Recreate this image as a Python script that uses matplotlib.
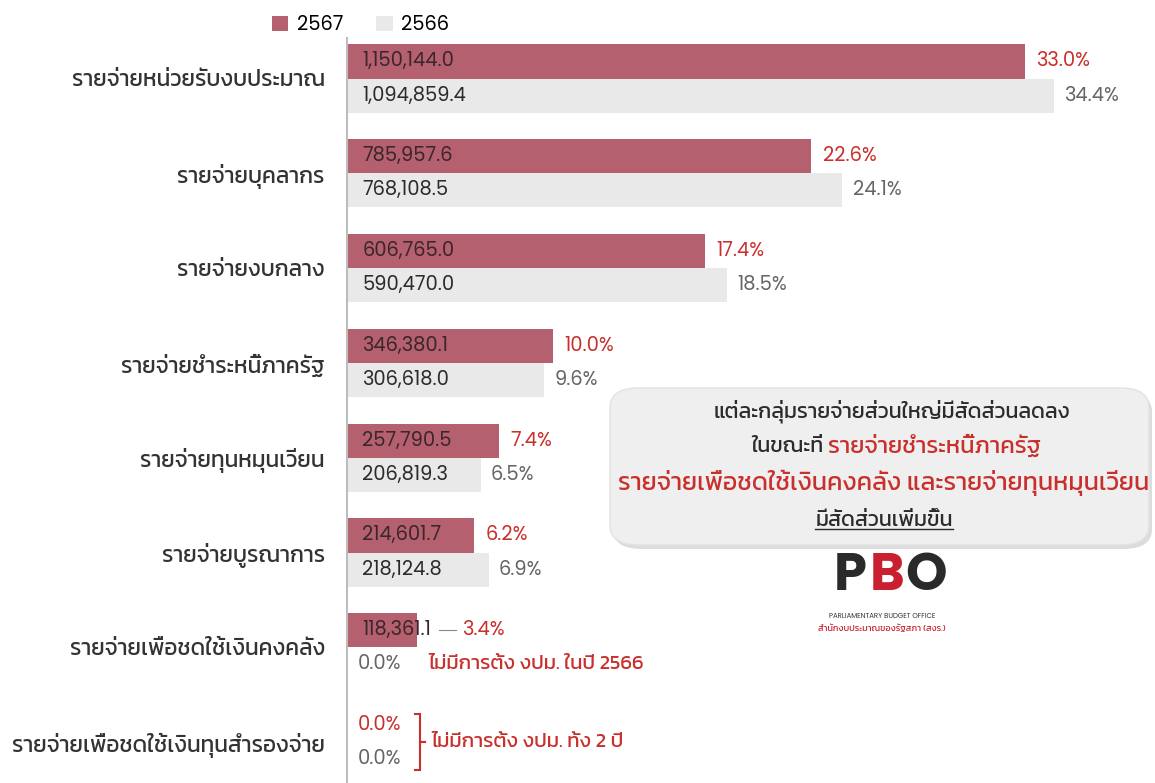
import matplotlib
matplotlib.use("Agg")
import matplotlib.pyplot as plt
from matplotlib import font_manager
from matplotlib.patches import FancyBboxPatch
from matplotlib.lines import Line2D

installed = {f.name for f in font_manager.fontManager.ttflist}
latin = [f for f in ["Poppins", "Prompt"] if f in installed][:1]
plt.rcParams['font.family'] = latin + ['Kanit', 'DejaVu Sans']

categories = [
    "รายจ่ายหน่วยรับงบประมาณ",
    "รายจ่ายบุคลากร",
    "รายจ่ายงบกลาง",
    "รายจ่ายชำระหนี้ภาครัฐ",
    "รายจ่ายทุนหมุนเวียน",
    "รายจ่ายบูรณาการ",
    "รายจ่ายเพื่อชดใช้เงินคงคลัง",
    "รายจ่ายเพื่อชดใช้เงินทุนสำรองจ่าย",
]
# amounts (million baht) and share of total (%)
amt_2567 = [1150144.0, 785957.6, 606765.0, 346380.1, 257790.5, 214601.7, 118361.1, 0.0]
amt_2566 = [1094859.4, 768108.5, 590470.0, 306618.0, 206819.3, 218124.8, 0.0, 0.0]
pct_2567 = [33.0, 22.6, 17.4, 10.0, 7.4, 6.2, 3.4, 0.0]
pct_2566 = [34.4, 24.1, 18.5, 9.6, 6.5, 6.9, 0.0, 0.0]

RED_BAR = "#b5606f"
GRAY_BAR = "#e9e9e9"
RED_TXT = "#c9302c"
GRAY_TXT = "#666666"
DARK = "#2b2b2b"
FS = 14
THAI = ['Kanit', 'DejaVu Sans']

W, H = 1155, 783
fig = plt.figure(figsize=(W / 100, H / 100), dpi=100)
ax = fig.add_axes([347 / W, 0, (W - 347) / W, (H - 38) / H])

n = len(categories)
y = list(range(n))
bh = 0.359
y_red = [i - bh / 2 for i in y]
y_gray = [i + bh / 2 for i in y]
b1 = ax.barh(y_red, pct_2567, height=bh, color=RED_BAR, label="2567")
b2 = ax.barh(y_gray, pct_2566, height=bh, color=GRAY_BAR, label="2566")

ax.set_xlim(0, (W - 347) / 20.55)
ax.set_ylim((783 - 78.5) / 94.8, (38 - 78.5) / 94.8)
for s in ["top", "right", "bottom"]:
    ax.spines[s].set_visible(False)
ax.spines["left"].set_color("#bdbdbd")
ax.spines["left"].set_linewidth(1.5)
ax.set_xticks([])
ax.set_yticks(y)
ax.set_yticklabels(categories, fontsize=16.3, color="#333333", family=THAI)
ax.tick_params(axis="y", length=0, pad=16)

# value labels inside bars and percentage labels after bars
for i in range(n):
    if amt_2567[i] > 0:
        ax.text(0.75, y_red[i], f"{amt_2567[i]:,.1f}", va="center", ha="left",
                fontsize=FS, color="#3a262c")
    if amt_2566[i] > 0:
        ax.text(0.75, y_gray[i], f"{amt_2566[i]:,.1f}", va="center", ha="left",
                fontsize=FS, color=DARK)
    if i < 6:
        ax.text(pct_2567[i] + 0.55, y_red[i], f"{pct_2567[i]:.1f}%", va="center",
                ha="left", fontsize=FS, color=RED_TXT)
        ax.text(pct_2566[i] + 0.5, y_gray[i], f"{pct_2566[i]:.1f}%", va="center",
                ha="left", fontsize=FS, color=GRAY_TXT)

# group 7: label overflowing the bar
ax.plot([4.5, 5.3], [y_red[6], y_red[6]], color="#888888", lw=0.8)
ax.text(5.6, y_red[6], f"{pct_2567[6]:.1f}%", va="center", ha="left", fontsize=FS,
        color=RED_TXT)
ax.text(0.5, y_gray[6], f"{pct_2566[6]:.1f}%", va="center", ha="left", fontsize=FS,
        color=GRAY_TXT)
ax.text(3.95, y_gray[6], "ไม่มีการตั้ง งปม. ในปี 2566", va="center", ha="left",
        fontsize=14.7, color=RED_TXT, family=THAI)

# group 8: bracket
ax.text(0.5, y_red[7], f"{pct_2567[7]:.1f}%", va="center", ha="left", fontsize=FS,
        color=RED_TXT)
ax.text(0.5, y_gray[7], f"{pct_2566[7]:.1f}%", va="center", ha="left", fontsize=FS,
        color=GRAY_TXT)
bx = 3.55
ax.plot([bx - 0.25, bx, bx, bx - 0.25],
        [y_red[7] - 0.12, y_red[7] - 0.12, y_gray[7] + 0.12, y_gray[7] + 0.12],
        color=RED_TXT, lw=1.5, solid_joinstyle="miter")
ax.plot([bx, bx + 0.25], [7, 7], color=RED_TXT, lw=1.5)
ax.text(4.1, 7, "ไม่มีการตั้ง งปม. ทั้ง 2 ปี", va="center", ha="left", fontsize=14.7,
        color=RED_TXT, family=THAI)

# legend
fig.legend(handles=[b1, b2], loc="center left", bbox_to_anchor=(254 / W, 1 - 25 / H),
           ncol=2, frameon=False, fontsize=FS, handlelength=0.85, handleheight=0.85,
           columnspacing=1.7, handletextpad=0.45)

# summary box
box = FancyBboxPatch((610 / W, 1 - 545 / H), (W - 616) / W, 157 / H,
                     boxstyle="round,pad=0,rounding_size=0.025", transform=fig.transFigure,
                     facecolor="#efefef", edgecolor="#e2e2e2", lw=1.0, zorder=3)
shadow = FancyBboxPatch((613 / W, 1 - 549 / H), (W - 616) / W, 157 / H,
                        boxstyle="round,pad=0,rounding_size=0.025", transform=fig.transFigure,
                        facecolor="#dcdcdc", edgecolor="none", zorder=2)
fig.patches.extend([shadow, box])
cx = 884 / W
fig.text(892 / W, 1 - 411 / H, "แต่ละกลุ่มรายจ่ายส่วนใหญ่มีสัดส่วนลดลง", ha="center", va="center",
         fontsize=15.5, color=DARK, zorder=4, family=THAI)
t2a = fig.text(cx, 1 - 446 / H, "ในขณะที่ ", ha="left", va="center", fontsize=15.5,
               color=DARK, zorder=4, family=THAI)
t2b = fig.text(cx, 1 - 446 / H, "รายจ่ายชำระหนี้ภาครัฐ", ha="left", va="center", fontsize=17,
               color=RED_TXT, zorder=4, family=THAI)
fig.text(cx, 1 - 483 / H, "รายจ่ายเพื่อชดใช้เงินคงคลัง และรายจ่ายทุนหมุนเวียน", ha="center",
         va="center", fontsize=18, color=RED_TXT, zorder=4, family=THAI)
t4 = fig.text(cx, 1 - 520 / H, "มีสัดส่วนเพิ่มขึ้น", ha="center", va="center", fontsize=15.5,
              color=DARK, zorder=4, family=THAI)

# center the two-colour line and underline the last line
r = fig.canvas.get_renderer()
wa = t2a.get_window_extent(r).width
wb = t2b.get_window_extent(r).width
x0 = 896 - (wa + wb) / 2
t2a.set_x(x0 / W)
t2b.set_x((x0 + wa) / W)
e4 = t4.get_window_extent(r)
fig.add_artist(Line2D([e4.x0 / W, e4.x1 / W], [(e4.y0 + 1) / H, (e4.y0 + 1) / H], color=DARK,
                      lw=1.0, transform=fig.transFigure, zorder=5))

# logo (approximation)
fig.text(850 / W, 1 - 578 / H, "P", ha="center", va="center", fontsize=38, fontweight="bold",
         color="#2a2a2a")
fig.text(887 / W, 1 - 578 / H, "B", ha="center", va="center", fontsize=38, fontweight="bold",
         color="#c8202f")
fig.text(926 / W, 1 - 578 / H, "O", ha="center", va="center", fontsize=38, fontweight="bold",
         color="#2a2a2a")
fig.text(882 / W, 1 - 617 / H, "PARLIAMENTARY BUDGET OFFICE", ha="center", va="center",
         fontsize=5, color="#333333")
fig.text(882 / W, 1 - 629 / H, "สำนักงบประมาณของรัฐสภา (สงร.)", ha="center", va="center",
         fontsize=6.5, color="#c8202f", family=THAI)

fig.savefig("out.png", dpi=100)
